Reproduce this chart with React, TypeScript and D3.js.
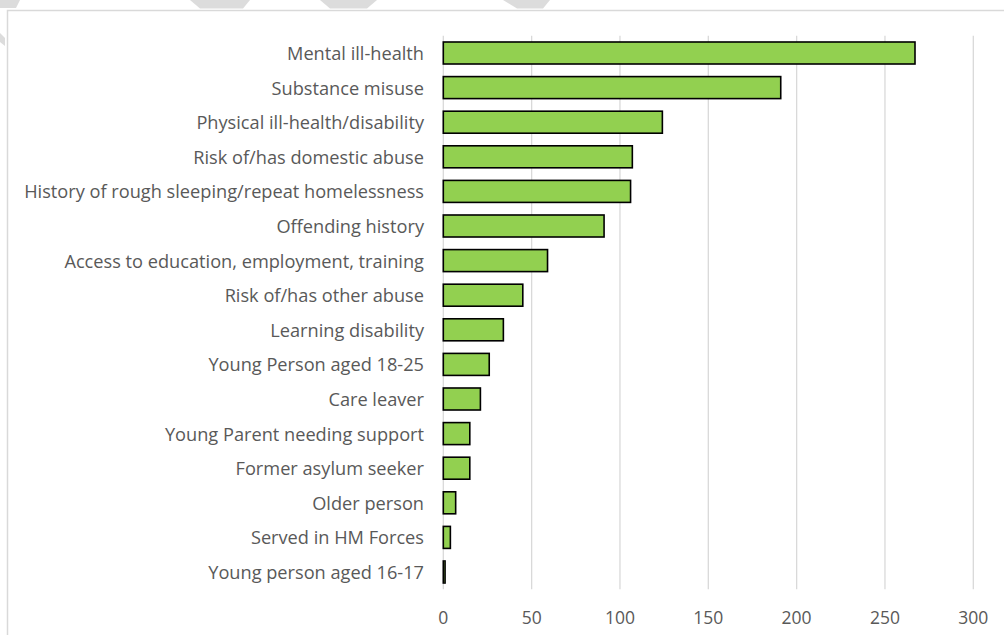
import React from "react";
import * as d3 from "d3";

const categories = [
  "Mental ill-health",
  "Substance misuse",
  "Physical ill-health/disability",
  "Risk of/has domestic abuse",
  "History of rough sleeping/repeat homelessness",
  "Offending history",
  "Access to education, employment, training",
  "Risk of/has other abuse",
  "Learning disability",
  "Young Person aged 18-25",
  "Care leaver",
  "Young Parent needing support",
  "Former asylum seeker",
  "Older person",
  "Served in HM Forces",
  "Young person aged 16-17",
];
const values = [267, 191, 124, 107, 106, 91, 59, 45, 34, 26, 21, 15, 15, 7, 4, 1];
const xTicks = [0, 50, 100, 150, 200, 250, 300];

const W = 1004;
const H = 635;
const FONT = "'Open Sans', 'Noto Sans', sans-serif";

export default function App() {
  const x = d3.scaleLinear().domain([0, 300]).range([443.3, 973.3]);
  const y = d3
    .scaleBand<string>()
    .domain(categories)
    .range([35.7, 589.3])
    .paddingInner(0.364)
    .paddingOuter(0.182);
  const top = 35.7;
  const bottom = 589.3;

  const stripes: [number, number][][] = [
    [[0, 0], [20, 0], [16, 8], [0, 8]],
    [[190, 0], [250, 0], [243, 8.5], [200, 8.5]],
    [[320, 0], [377, 0], [367, 8.5], [330, 8.5]],
    [[503, 0], [550, 0], [543, 8.5], [517, 8.5]],
    [[0, 33], [5, 38], [5, 46], [0, 42]],
  ];

  return (
    <svg
      width={W}
      height={H}
      style={{ position: "absolute", left: 0, top: 0, background: "#fff" }}
    >
      {stripes.map((p, i) => (
        <polygon key={i} points={p.map((q) => q.join(",")).join(" ")} fill="#dcdcdc" />
      ))}
      <path d={`M7.5,${H} V10.5 H${W}`} fill="none" stroke="#d9d9d9" strokeWidth={1.5} />
      {xTicks.map((t) => (
        <g key={t}>
          <line x1={x(t)} x2={x(t)} y1={top} y2={bottom} stroke="#d9d9d9" strokeWidth={1.3} />
          <text
            x={x(t)}
            y={617}
            textAnchor="middle"
            dominantBaseline="central"
            fill="#595959"
            fontFamily={FONT}
            fontSize={17.5}
          >
            {t}
          </text>
        </g>
      ))}
      {categories.map((c, i) => (
        <g key={c}>
          <rect
            x={x(0)}
            y={y(c)!}
            width={x(values[i]) - x(0)}
            height={y.bandwidth()}
            fill="#92d050"
            stroke="#000"
            strokeWidth={1.6}
          />
          <text
            x={424}
            y={y(c)! + y.bandwidth() / 2}
            textAnchor="end"
            dominantBaseline="central"
            fill="#595959"
            fontFamily={FONT}
            fontSize={18.2}
          >
            {c}
          </text>
        </g>
      ))}
    </svg>
  );
}
